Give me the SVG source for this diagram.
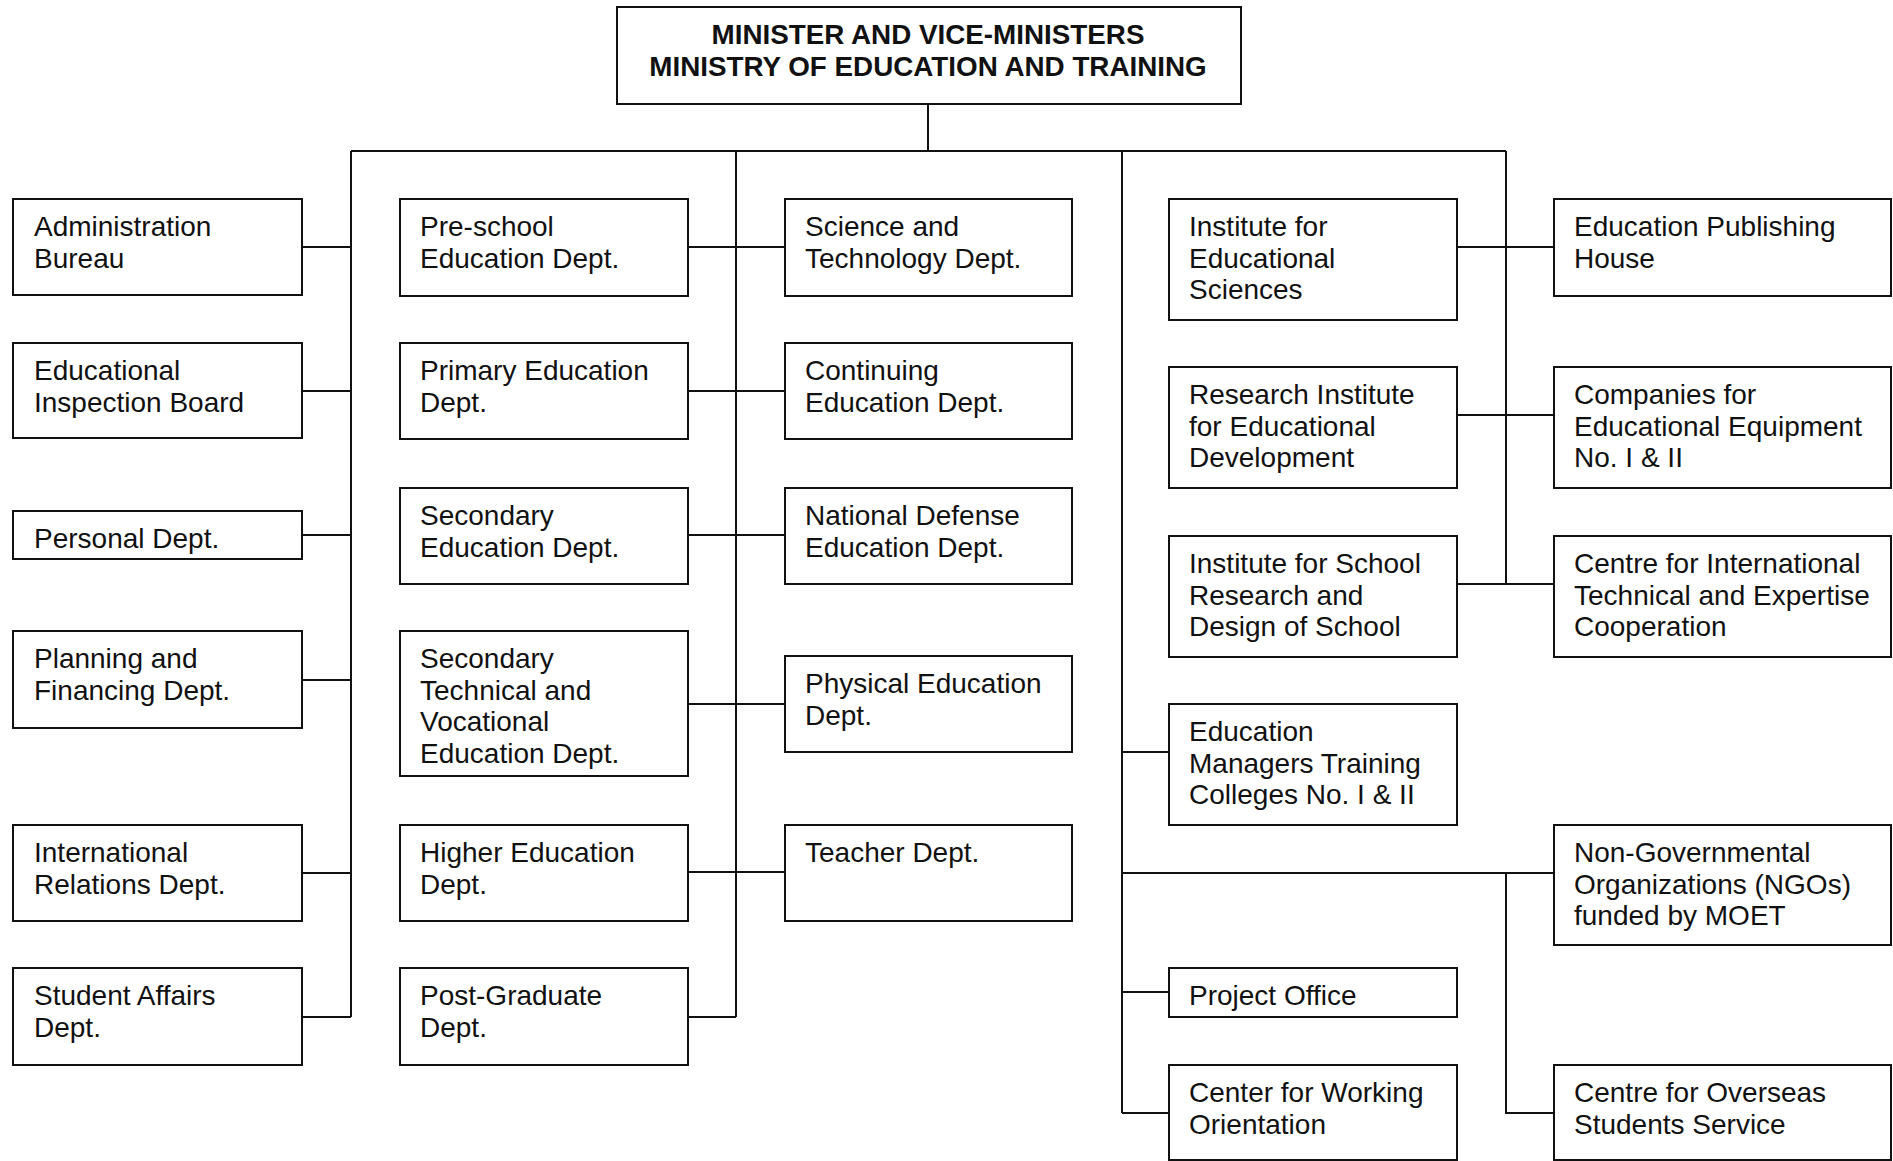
<svg xmlns="http://www.w3.org/2000/svg" width="1893" height="1161" viewBox="0 0 1893 1161">
<style>
.box{fill:#fff;stroke:#111;stroke-width:2}
.t{font-family:"Liberation Sans",Arial,Helvetica,sans-serif;font-size:28px;fill:#111}
.h{font-family:"Liberation Sans",Arial,Helvetica,sans-serif;font-size:27.8px;font-weight:bold;fill:#111;text-anchor:middle}
.c{fill:none;stroke:#111;stroke-width:2}
</style>
<rect width="1893" height="1161" fill="#fff"/>
<g id="connectors" class="c">
<path d="M928 104V151M351 151H1506"/>
<path d="M351 151V1017"/>
<path d="M302 247H351M302 391H351M302 535H351M302 680H351M302 873H351M302 1017H351"/>
<path d="M736 151V1017"/>
<path d="M688 247H785M688 391H785M688 535H785M688 704H785M688 872H785M688 1017H736"/>
<path d="M1122 151V1113"/>
<path d="M1506 151V584"/>
<path d="M1457 247H1554M1457 415H1554M1457 584H1554"/>
<path d="M1122 752H1169M1122 873H1554M1122 992H1169M1122 1113H1169"/>
<path d="M1506 873V1113H1554"/>
</g>
<g id="n-top"><rect class="box" x="617" y="7" width="624" height="97"/><text class="h" x="928" y="44">MINISTER AND VICE-MINISTERS</text><text class="h" x="928" y="76">MINISTRY OF EDUCATION AND TRAINING</text></g>

<g id="n-admin"><rect class="box" x="13" y="199" width="289" height="96"/><text class="t" x="34" y="236">Administration</text><text class="t" x="34" y="267.5">Bureau</text></g>
<g id="n-inspection"><rect class="box" x="13" y="343" width="289" height="95"/><text class="t" x="34" y="380">Educational</text><text class="t" x="34" y="411.5">Inspection Board</text></g>
<g id="n-personal"><rect class="box" x="13" y="511" width="289" height="48"/><text class="t" x="34" y="548">Personal Dept.</text></g>
<g id="n-planning"><rect class="box" x="13" y="631" width="289" height="97"/><text class="t" x="34" y="668">Planning and</text><text class="t" x="34" y="699.5">Financing Dept.</text></g>
<g id="n-intl"><rect class="box" x="13" y="825" width="289" height="96"/><text class="t" x="34" y="862">International</text><text class="t" x="34" y="893.5">Relations Dept.</text></g>
<g id="n-student"><rect class="box" x="13" y="968" width="289" height="97"/><text class="t" x="34" y="1005">Student Affairs</text><text class="t" x="34" y="1036.5">Dept.</text></g>

<g id="n-preschool"><rect class="box" x="400" y="199" width="288" height="97"/><text class="t" x="420" y="236">Pre-school</text><text class="t" x="420" y="267.5">Education Dept.</text></g>
<g id="n-primary"><rect class="box" x="400" y="343" width="288" height="96"/><text class="t" x="420" y="380">Primary Education</text><text class="t" x="420" y="411.5">Dept.</text></g>
<g id="n-secondary"><rect class="box" x="400" y="488" width="288" height="96"/><text class="t" x="420" y="525">Secondary</text><text class="t" x="420" y="556.5">Education Dept.</text></g>
<g id="n-sectech"><rect class="box" x="400" y="631" width="288" height="145"/><text class="t" x="420" y="668">Secondary</text><text class="t" x="420" y="699.5">Technical and</text><text class="t" x="420" y="731">Vocational</text><text class="t" x="420" y="762.5">Education Dept.</text></g>
<g id="n-higher"><rect class="box" x="400" y="825" width="288" height="96"/><text class="t" x="420" y="862">Higher Education</text><text class="t" x="420" y="893.5">Dept.</text></g>
<g id="n-postgrad"><rect class="box" x="400" y="968" width="288" height="97"/><text class="t" x="420" y="1005">Post-Graduate</text><text class="t" x="420" y="1036.5">Dept.</text></g>

<g id="n-science"><rect class="box" x="785" y="199" width="287" height="97"/><text class="t" x="805" y="236">Science and</text><text class="t" x="805" y="267.5">Technology Dept.</text></g>
<g id="n-continuing"><rect class="box" x="785" y="343" width="287" height="96"/><text class="t" x="805" y="380">Continuing</text><text class="t" x="805" y="411.5">Education Dept.</text></g>
<g id="n-defense"><rect class="box" x="785" y="488" width="287" height="96"/><text class="t" x="805" y="525">National Defense</text><text class="t" x="805" y="556.5">Education Dept.</text></g>
<g id="n-physical"><rect class="box" x="785" y="656" width="287" height="96"/><text class="t" x="805" y="693">Physical Education</text><text class="t" x="805" y="724.5">Dept.</text></g>
<g id="n-teacher"><rect class="box" x="785" y="825" width="287" height="96"/><text class="t" x="805" y="862">Teacher Dept.</text></g>

<g id="n-ies"><rect class="box" x="1169" y="199" width="288" height="121"/><text class="t" x="1189" y="236">Institute for</text><text class="t" x="1189" y="267.5">Educational</text><text class="t" x="1189" y="299">Sciences</text></g>
<g id="n-ried"><rect class="box" x="1169" y="367" width="288" height="121"/><text class="t" x="1189" y="404">Research Institute</text><text class="t" x="1189" y="435.5">for Educational</text><text class="t" x="1189" y="467">Development</text></g>
<g id="n-isr"><rect class="box" x="1169" y="536" width="288" height="121"/><text class="t" x="1189" y="573">Institute for School</text><text class="t" x="1189" y="604.5">Research and</text><text class="t" x="1189" y="636">Design of School</text></g>
<g id="n-emtc"><rect class="box" x="1169" y="704" width="288" height="121"/><text class="t" x="1189" y="741">Education</text><text class="t" x="1189" y="772.5">Managers Training</text><text class="t" x="1189" y="804">Colleges No. I &amp; II</text></g>
<g id="n-project"><rect class="box" x="1169" y="968" width="288" height="49"/><text class="t" x="1189" y="1005">Project Office</text></g>
<g id="n-cwo"><rect class="box" x="1169" y="1065" width="288" height="95"/><text class="t" x="1189" y="1102">Center for Working</text><text class="t" x="1189" y="1133.5">Orientation</text></g>

<g id="n-publishing"><rect class="box" x="1554" y="199" width="337" height="97"/><text class="t" x="1574" y="236">Education Publishing</text><text class="t" x="1574" y="267.5">House</text></g>
<g id="n-companies"><rect class="box" x="1554" y="367" width="337" height="121"/><text class="t" x="1574" y="404">Companies for</text><text class="t" x="1574" y="435.5">Educational Equipment</text><text class="t" x="1574" y="467">No. I &amp; II</text></g>
<g id="n-centre-intl"><rect class="box" x="1554" y="536" width="337" height="121"/><text class="t" x="1574" y="573">Centre for International</text><text class="t" x="1574" y="604.5">Technical and Expertise</text><text class="t" x="1574" y="636">Cooperation</text></g>
<g id="n-ngo"><rect class="box" x="1554" y="825" width="337" height="120"/><text class="t" x="1574" y="862">Non-Governmental</text><text class="t" x="1574" y="893.5">Organizations (NGOs)</text><text class="t" x="1574" y="925">funded by MOET</text></g>
<g id="n-overseas"><rect class="box" x="1554" y="1065" width="337" height="95"/><text class="t" x="1574" y="1102">Centre for Overseas</text><text class="t" x="1574" y="1133.5">Students Service</text></g>
</svg>
